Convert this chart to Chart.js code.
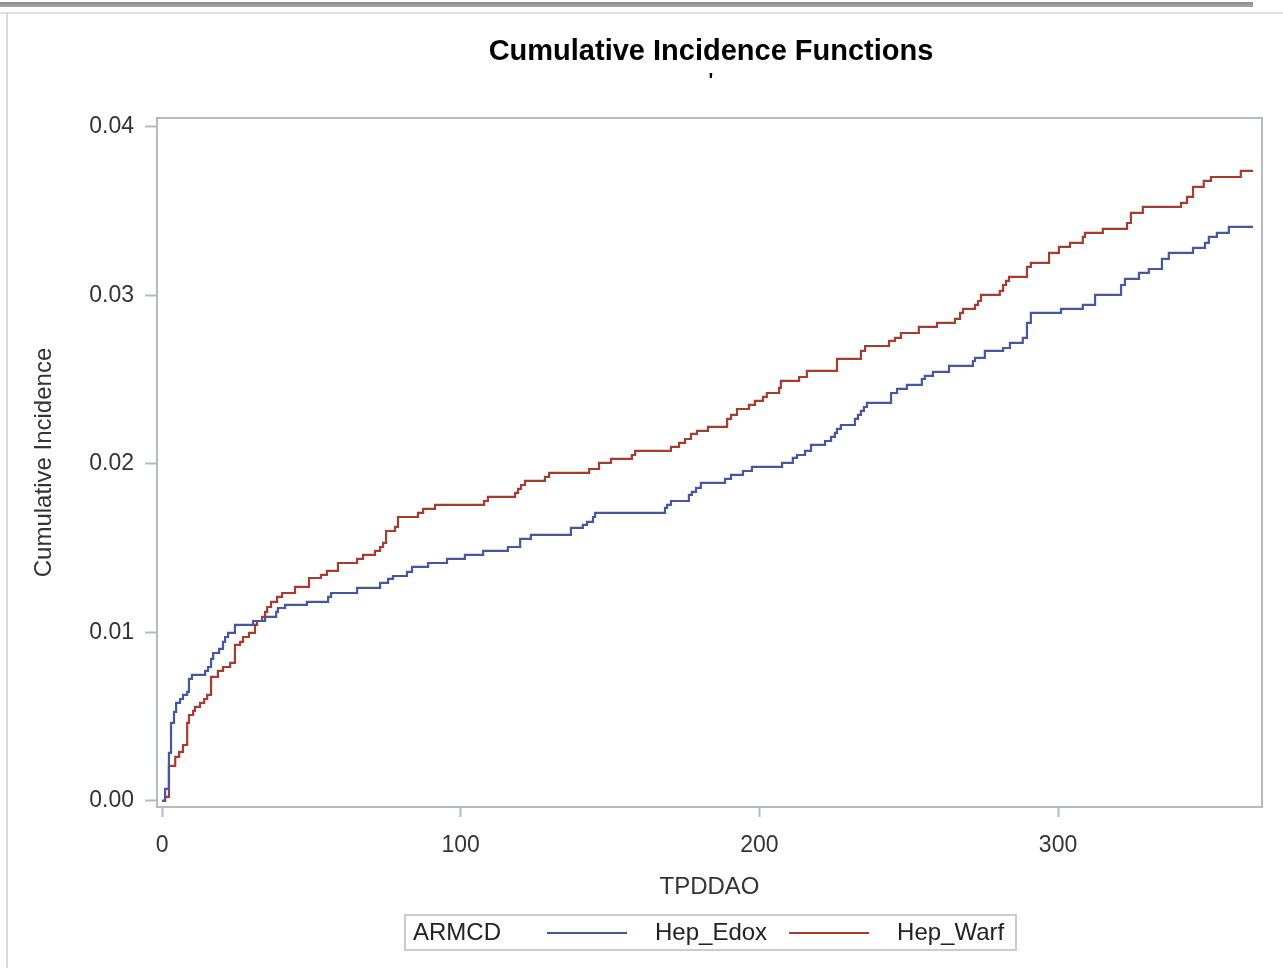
<!DOCTYPE html>
<html lang="en">

<head>
    <meta charset="UTF-8">
    <title>Cumulative Incidence Functions</title>
    <script src="https://cdn.jsdelivr.net/npm/chart.js"></script>
    <style>
        body { margin: 0; background: #fff; font-family: "Liberation Sans", Arial, sans-serif; }
        .bar { position: absolute; left: 0; top: 2px; width: 1253px; height: 5px; background: linear-gradient(#8c8c8c, #a4a4a4); }
        .hline { position: absolute; left: 0; top: 12px; width: 1283px; height: 2px; background: #e2e2e2; }
        .vline { position: absolute; left: 6px; top: 12px; width: 2px; height: 956px; background: #dadada; }
        #cif { position: absolute; left: 0; top: 0; }
    </style>
</head>

<body>
    <div class="bar"></div>
    <div class="hline"></div>
    <div class="vline"></div>
    <canvas id="cif" width="1283" height="968"></canvas>
    <script>
        // values (time in days, cumulative incidence)
        const edoxTime = [0, 1.0, 2.3, 3.0, 4.0, 4.7, 6.0, 7.0, 8.4, 9.0, 10.0, 14.4, 15.4, 16.4, 17.1, 19.1, 20.4, 21.1, 22.1, 24.4,
            30.5, 34.5, 38.2, 38.8, 41.2, 48.5, 55.6, 56.6, 65.3, 73.0, 75.7, 77.3, 82.0, 83.7, 89.1, 95.4, 101.4, 107.5, 115.8,
            119.9, 123.5, 136.9, 140.9, 142.3, 144.3, 145.0, 168.4, 169.1, 170.4, 176.4, 177.4, 178.8, 180.4, 188.5, 190.5, 194.5,
            197.5, 207.6, 211.2, 212.6, 215.3, 217.3, 222.0, 224.0, 225.3, 226.0, 227.3, 232.0, 233.0, 234.0, 235.0, 236.0, 244.1,
            246.1, 249.4, 254.4, 255.4, 258.1, 263.5, 271.5, 272.2, 275.5, 281.6, 283.9, 288.2, 289.6, 290.9, 301.0, 308.3, 312.4,
            321.1, 322.4, 327.1, 330.4, 334.8, 337.1, 345.2, 349.2, 350.5, 353.2, 357.2, 365.3];
        const edoxCif = [0, 0.00071, 0.00285, 0.00463, 0.00528, 0.00582, 0.00605, 0.00629, 0.00647, 0.00724, 0.00748, 0.00772,
            0.00795, 0.00843, 0.00878, 0.00902, 0.00944, 0.00973, 0.00997, 0.01045, 0.01068, 0.01092, 0.01122, 0.01145, 0.01163,
            0.01181, 0.01211, 0.01234, 0.01264, 0.01294, 0.01318, 0.01335, 0.01359, 0.01389, 0.01412, 0.01436, 0.01460, 0.01484,
            0.01507, 0.01555, 0.01579, 0.01620, 0.01638, 0.01656, 0.01685, 0.01709, 0.01739, 0.01757, 0.01780, 0.01816, 0.01834,
            0.01858, 0.01887, 0.01911, 0.01935, 0.01958, 0.01982, 0.02006, 0.02036, 0.02053, 0.02077, 0.02113, 0.02136, 0.02160,
            0.02184, 0.02208, 0.02231, 0.02267, 0.02291, 0.02315, 0.02338, 0.02362, 0.02421, 0.02445, 0.02469, 0.02504, 0.02522,
            0.02546, 0.02582, 0.02611, 0.02629, 0.02671, 0.02688, 0.02718, 0.02748, 0.02837, 0.02896, 0.02920, 0.02944, 0.03003,
            0.03062, 0.03098, 0.03134, 0.03157, 0.03217, 0.03252, 0.03282, 0.03312, 0.03347, 0.03371, 0.03407, 0.03407];

        const warfTime = [0, 1.0, 2.3, 4.4, 5.7, 7.0, 8.4, 9.0, 10.4, 11.0, 12.7, 14.1, 15.1, 16.4, 18.7, 20.4, 22.8, 24.4, 26.1,
            27.1, 29.1, 31.1, 31.8, 33.5, 34.5, 35.2, 36.5, 38.5, 40.2, 44.5, 49.2, 53.2, 55.2, 58.9, 65.3, 67.3, 71.3, 73.0, 74.0,
            75.0, 78.0, 79.0, 85.7, 87.4, 91.4, 107.8, 109.1, 118.2, 119.2, 120.2, 121.5, 128.2, 129.6, 143.0, 146.3, 150.3, 157.3,
            158.4, 170.4, 173.1, 175.1, 177.1, 179.1, 182.8, 189.2, 190.5, 192.5, 196.5, 198.5, 201.2, 202.5, 206.6, 207.2, 213.3,
            215.9, 226.0, 234.0, 235.4, 243.4, 245.4, 247.4, 253.4, 259.5, 265.5, 267.2, 268.2, 272.2, 273.2, 274.2, 280.5, 281.6,
            282.6, 283.6, 289.6, 290.9, 297.0, 300.3, 304.0, 308.3, 309.0, 315.0, 323.1, 324.4, 328.4, 341.2, 343.2, 345.2, 348.8,
            351.2, 361.2, 365.3];
        const warfCif = [0, 0.00024, 0.00208, 0.00261, 0.00291, 0.00332, 0.00463, 0.00510, 0.00534, 0.00558, 0.00582, 0.00605,
            0.00629, 0.00736, 0.00772, 0.00795, 0.00819, 0.00926, 0.00944, 0.00973, 0.00997, 0.01045, 0.01068, 0.01092, 0.01122,
            0.01151, 0.01181, 0.01211, 0.01234, 0.01270, 0.01323, 0.01341, 0.01365, 0.01412, 0.01436, 0.01460, 0.01484, 0.01507,
            0.01531, 0.01602, 0.01626, 0.01685, 0.01709, 0.01733, 0.01757, 0.01780, 0.01804, 0.01828, 0.01852, 0.01875, 0.01899,
            0.01923, 0.01947, 0.01970, 0.02006, 0.02030, 0.02053, 0.02077, 0.02101, 0.02125, 0.02148, 0.02178, 0.02196, 0.02220,
            0.02267, 0.02291, 0.02326, 0.02350, 0.02374, 0.02398, 0.02421, 0.02451, 0.02493, 0.02516, 0.02552, 0.02623, 0.02671,
            0.02700, 0.02730, 0.02748, 0.02777, 0.02813, 0.02837, 0.02861, 0.02896, 0.02920, 0.02944, 0.02967, 0.03003, 0.03027,
            0.03062, 0.03086, 0.03110, 0.03169, 0.03193, 0.03252, 0.03288, 0.03312, 0.03347, 0.03371, 0.03395, 0.03430, 0.03490,
            0.03525, 0.03549, 0.03585, 0.03644, 0.03680, 0.03703, 0.03739, 0.03739];

        const groupNames = ['Hep_Edox', 'Hep_Warf'];
        const xTicks = [0, 100, 200, 300];
        const yTicks = [0, 0.01, 0.02, 0.03, 0.04];

        const FONT = '"Liberation Sans", Arial, sans-serif';
        const AXIS_GRAY = '#b4babe';

        function toPoints(xs, ys) {
            return xs.map((x, i) => ({ x: x, y: ys[i] }));
        }

        // frame, title and the SAS style legend box
        const sasDecor = {
            id: 'sasDecor',
            afterDraw(chart) {
                const ctx = chart.ctx;
                const a = chart.chartArea;
                ctx.save();
                ctx.strokeStyle = AXIS_GRAY;
                ctx.lineWidth = 2;
                ctx.strokeRect(a.left, a.top, a.right - a.left, a.bottom - a.top);

                ctx.fillStyle = '#000';
                ctx.textAlign = 'center';
                ctx.textBaseline = 'middle';
                ctx.font = 'bold 29px ' + FONT;
                ctx.fillText('Cumulative Incidence Functions', 711, 52);
                ctx.font = 'bold 20px ' + FONT;
                ctx.fillText("'", 711, 81);

                // legend
                ctx.strokeStyle = '#cccccc';
                ctx.lineWidth = 2;
                ctx.strokeRect(405, 915, 611, 35);
                ctx.font = '24px ' + FONT;
                ctx.textAlign = 'left';
                ctx.fillStyle = '#222';
                const ly = 933;
                ctx.fillText('ARMCD', 413, ly);
                let x = 547;
                chart.data.datasets.forEach((ds) => {
                    ctx.strokeStyle = ds.borderColor;
                    ctx.lineWidth = 2;
                    ctx.beginPath();
                    ctx.moveTo(x, ly);
                    ctx.lineTo(x + 80, ly);
                    ctx.stroke();
                    ctx.fillStyle = '#222';
                    ctx.fillText(ds.label, x + 108, ly);
                    x = x + 108 + ctx.measureText(ds.label).width + 22;
                });
                ctx.restore();
            }
        };

        new Chart(document.getElementById('cif'), {
            type: 'line',
            data: {
                datasets: [{
                    label: groupNames[0],
                    data: toPoints(edoxTime, edoxCif),
                    borderColor: '#4557a0',
                    borderWidth: 2.2,
                    stepped: true,
                    pointRadius: 0,
                    fill: false
                }, {
                    label: groupNames[1],
                    data: toPoints(warfTime, warfCif),
                    borderColor: '#a83b30',
                    borderWidth: 2.2,
                    stepped: true,
                    pointRadius: 0,
                    fill: false
                }]
            },
            options: {
                responsive: false,
                animation: false,
                devicePixelRatio: 1,
                layout: { padding: { top: 118, right: 21, bottom: 0, left: 0 } },
                plugins: {
                    legend: { display: false },
                    title: { display: false },
                    tooltip: { enabled: false }
                },
                scales: {
                    x: {
                        type: 'linear',
                        min: -1.7,
                        max: 368.3,
                        afterFit: (s) => { s.height = 161; },
                        afterBuildTicks: (s) => { s.ticks = xTicks.map(v => ({ value: v })); },
                        ticks: {
                            color: '#333',
                            padding: 15,
                            maxRotation: 0,
                            font: { family: FONT, size: 23 },
                            callback: (v) => String(v)
                        },
                        grid: { drawOnChartArea: false, drawTicks: true, tickLength: 10, tickColor: AXIS_GRAY, tickWidth: 2 },
                        border: { display: false },
                        title: {
                            display: true,
                            text: 'TPDDAO',
                            color: '#333',
                            font: { family: FONT, size: 24 },
                            padding: { top: 0, bottom: 66 }
                        }
                    },
                    y: {
                        type: 'linear',
                        min: -0.00036,
                        max: 0.04053,
                        afterFit: (s) => { s.width = 157; },
                        afterBuildTicks: (s) => { s.ticks = yTicks.map(v => ({ value: v })); },
                        ticks: {
                            color: '#333',
                            padding: 11,
                            font: { family: FONT, size: 23 },
                            callback: (v) => Number(v).toFixed(2)
                        },
                        grid: { drawOnChartArea: false, drawTicks: true, tickLength: 12, tickColor: AXIS_GRAY, tickWidth: 2 },
                        border: { display: false },
                        title: {
                            display: true,
                            text: 'Cumulative Incidence',
                            color: '#333',
                            font: { family: FONT, size: 24 },
                            padding: { top: 30, bottom: 0 }
                        }
                    }
                }
            },
            plugins: [sasDecor]
        });
    </script>
</body>

</html>
